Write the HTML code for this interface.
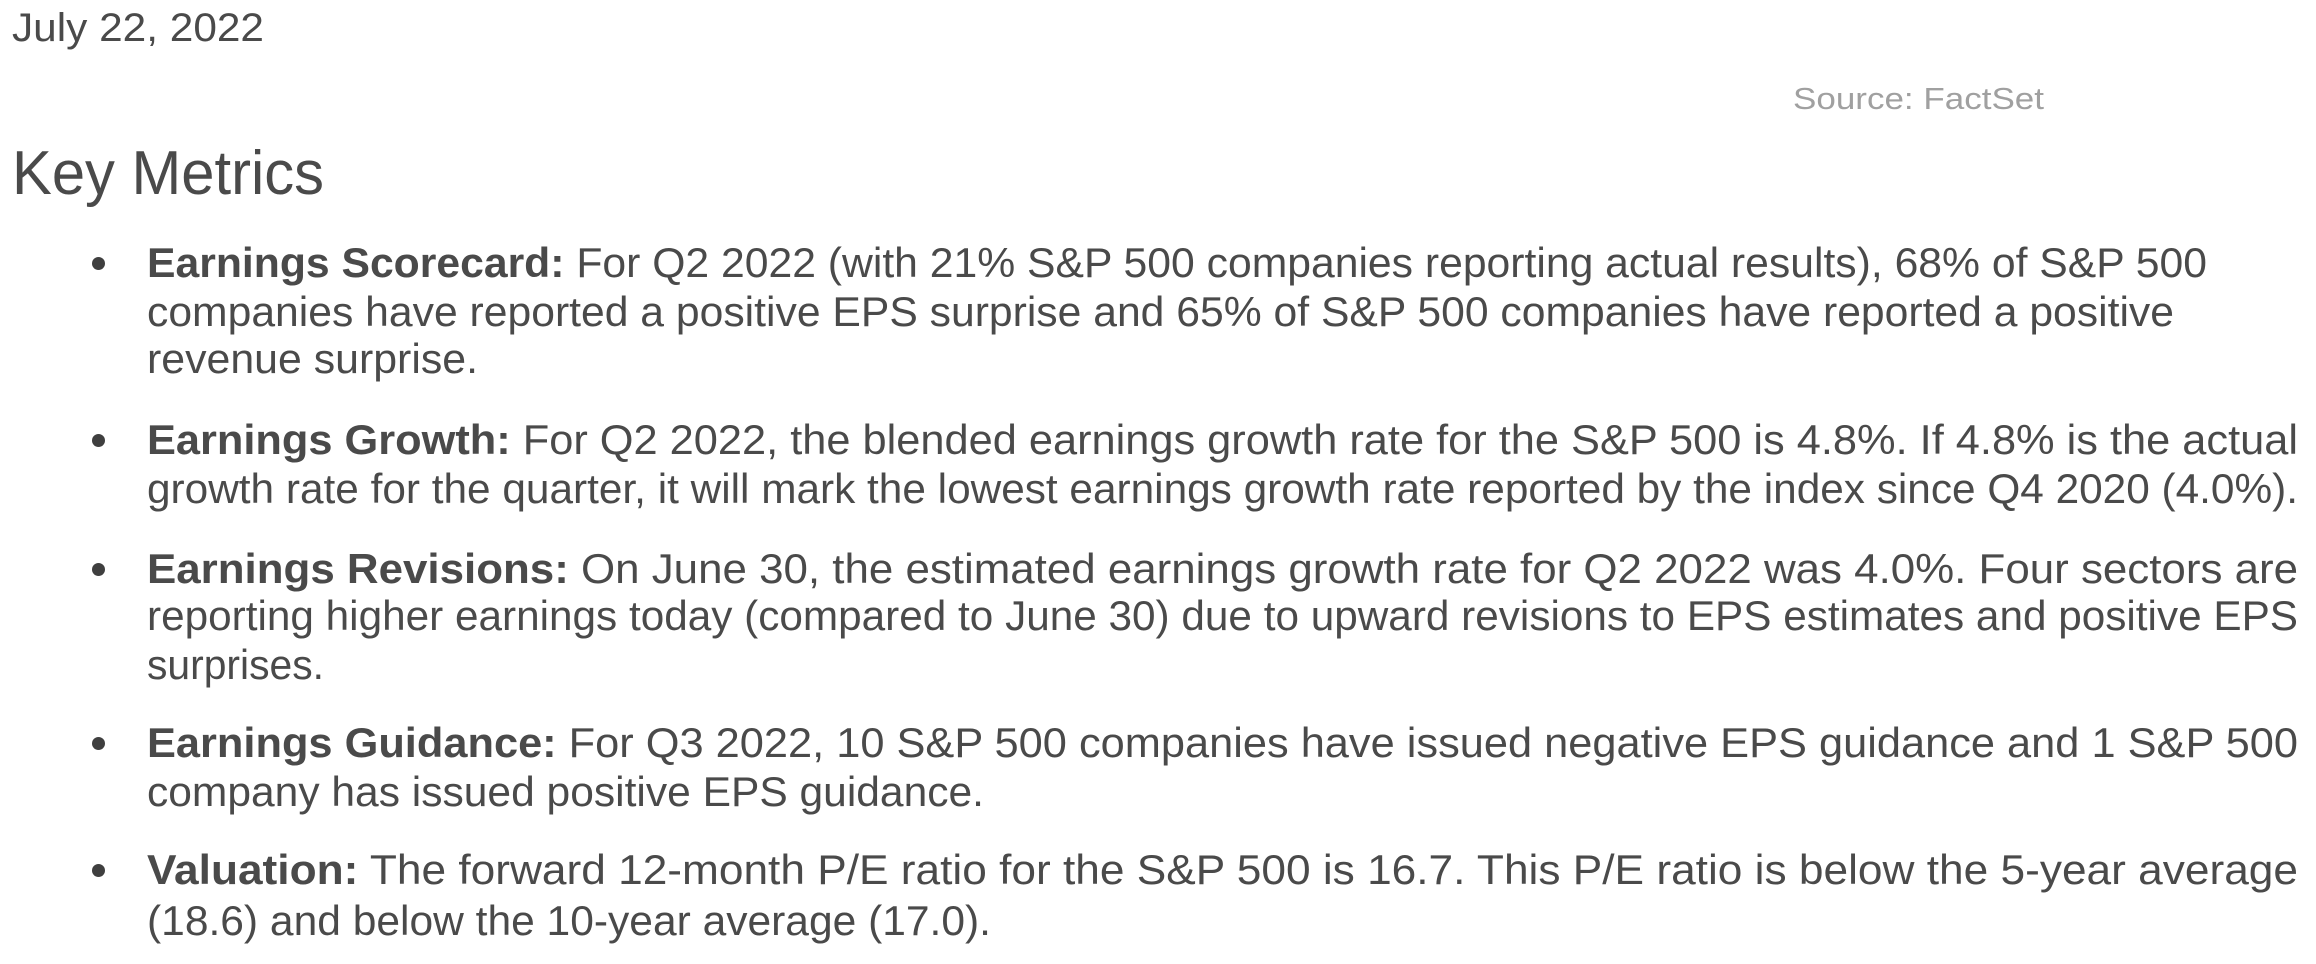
<!DOCTYPE html>
<html><head><meta charset="utf-8">
<style>
html,body{margin:0;padding:0;background:#fff;}
body{width:2316px;height:964px;position:relative;overflow:hidden;font-family:"Liberation Sans",Arial,sans-serif;color:#4a4a4a;}
.t{position:absolute;white-space:nowrap;line-height:1;transform-origin:0 50%;}
.b{font-size:42px;}
.dot{position:absolute;width:13px;height:13px;border-radius:50%;background:#3f3f3f;}
</style></head>
<body>
<div class="t" data-w="252" style="left:12px;top:8px;font-size:40px;">July 22, 2022</div>
<div class="t" data-w="251" style="left:1793px;top:83px;font-size:31px;color:#a0a0a0;">Source: FactSet</div>
<div class="t" data-w="312" style="left:12px;top:143px;font-size:62px;">Key Metrics</div>

<div class="dot" style="left:92px;top:257px"></div>
<div class="t b" data-w="2060" style="left:147px;top:242px"><b>Earnings Scorecard:</b> For Q2 2022 (with 21% S&amp;P 500 companies reporting actual results), 68% of S&amp;P 500</div>
<div class="t b" data-w="2027" style="left:147px;top:291px">companies have reported a positive EPS surprise and 65% of S&amp;P 500 companies have reported a positive</div>
<div class="t b" data-w="331" style="left:147px;top:338px">revenue surprise.</div>

<div class="dot" style="left:92px;top:434px"></div>
<div class="t b" data-w="2151" style="left:147px;top:419px"><b>Earnings Growth:</b> For Q2 2022, the blended earnings growth rate for the S&amp;P 500 is 4.8%. If 4.8% is the actual</div>
<div class="t b" data-w="2151" style="left:147px;top:468px">growth rate for the quarter, it will mark the lowest earnings growth rate reported by the index since Q4 2020 (4.0%).</div>

<div class="dot" style="left:92px;top:563px"></div>
<div class="t b" data-w="2151" style="left:147px;top:548px"><b>Earnings Revisions:</b> On June 30, the estimated earnings growth rate for Q2 2022 was 4.0%. Four sectors are</div>
<div class="t b" data-w="2151" style="left:147px;top:595px">reporting higher earnings today (compared to June 30) due to upward revisions to EPS estimates and positive EPS</div>
<div class="t b" data-w="177" style="left:147px;top:644px">surprises.</div>

<div class="dot" style="left:92px;top:737px"></div>
<div class="t b" data-w="2151" style="left:147px;top:722px"><b>Earnings Guidance:</b> For Q3 2022, 10 S&amp;P 500 companies have issued negative EPS guidance and 1 S&amp;P 500</div>
<div class="t b" data-w="837" style="left:147px;top:771px">company has issued positive EPS guidance.</div>

<div class="dot" style="left:92px;top:864px"></div>
<div class="t b" data-w="2151" style="left:147px;top:849px"><b>Valuation:</b> The forward 12-month P/E ratio for the S&amp;P 500 is 16.7. This P/E ratio is below the 5-year average</div>
<div class="t b" data-w="844" style="left:147px;top:900px">(18.6) and below the 10-year average (17.0).</div>

<script>
document.querySelectorAll('.t').forEach(function(el){
  var target=parseFloat(el.getAttribute('data-w'));
  var w=el.getBoundingClientRect().width;
  if(w>0){el.style.transform='scaleX('+(target/w)+')';}
});
</script>
</body></html>
